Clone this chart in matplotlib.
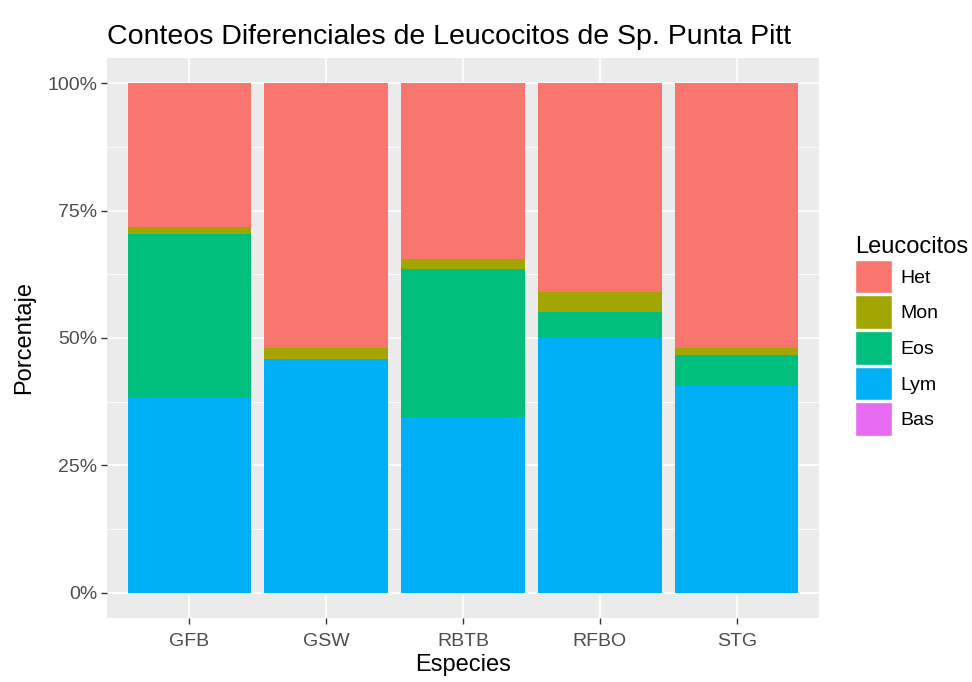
import matplotlib
matplotlib.use('Agg')
import matplotlib.pyplot as plt
from matplotlib.patches import Patch
import numpy as np

plt.rcParams['font.family'] = ['Liberation Sans', 'DejaVu Sans']

# data (percent of each species)
especies = ["GFB", "GSW", "RBTB", "RFBO", "STG"]
leucocitos = ["Het", "Mon", "Eos", "Lym", "Bas"]
het = [28.1, 52.0, 34.5, 40.9, 52.0]
mon = [1.5, 2.1, 2.0, 3.9, 1.3]
eos = [31.9, 0.0, 29.1, 5.2, 6.2]
lym = [38.5, 45.9, 34.4, 50.0, 40.5]
bas = [0.0, 0.0, 0.0, 0.0, 0.0]
colores = ["#F8766D", "#A3A500", "#00BF7D", "#00B0F6", "#E76BF3"]

series = {"Het": het, "Mon": mon, "Eos": eos, "Lym": lym, "Bas": bas}
totals = np.sum([series[k] for k in leucocitos], axis=0)

fig = plt.figure(figsize=(9.72, 6.82), dpi=100)
ax = fig.add_axes([107 / 972, 64 / 682, 712 / 972, 560 / 682])
ax.set_facecolor("#EBEBEB")

x = np.arange(1, len(especies) + 1)

# grid like ggplot
for v in [0.125, 0.375, 0.625, 0.875]:
    ax.axhline(v, color="white", lw=0.6, zorder=0)
for v in [0, 0.25, 0.5, 0.75, 1.0]:
    ax.axhline(v, color="white", lw=1.2, zorder=0)
for xi in x:
    ax.axvline(xi, color="white", lw=1.2, zorder=0)

# stack from bottom: Bas, Lym, Eos, Mon, Het
bottom = np.zeros(len(especies))
for name in leucocitos[::-1]:
    vals = np.array(series[name]) / totals
    ax.bar(x, vals, width=0.9, bottom=bottom, color=colores[leucocitos.index(name)],
           zorder=2, linewidth=0)
    bottom += vals

ax.set_xlim(0.4, 5.6)
ax.set_ylim(-0.05, 1.05)
ax.set_xticks(x)
ax.set_xticklabels(especies)
ax.set_yticks([0, 0.25, 0.5, 0.75, 1.0])
ax.set_yticklabels(["0%", "25%", "50%", "75%", "100%"])
ax.tick_params(axis="both", colors="#333333", labelcolor="#4D4D4D", labelsize=14,
               length=4, width=1, pad=3)
ax.tick_params(axis="x", pad=7)
for s in ax.spines.values():
    s.set_visible(False)

ax.set_xlabel("Especies", fontsize=17, color="black", labelpad=3)
ax.set_ylabel("Porcentaje", fontsize=17, color="black", labelpad=9)
fig.text(107 / 972, 1 - 37 / 682, "Conteos Diferenciales de Leucocitos de Sp. Punta Pitt",
         fontsize=20.5, ha="left", va="center")

handles = [Patch(facecolor=c, edgecolor="white", linewidth=1) for c in colores]
leg = fig.legend(handles, leucocitos, title="Leucocitos", loc="upper left",
                 bbox_to_anchor=(847 / 972, 1 - 228 / 682), frameon=False,
                 fontsize=14, title_fontsize=17, handlelength=1.92, handleheight=2.29,
                 labelspacing=0.1, handletextpad=0.45, borderaxespad=0)
leg._legend_box.align = "left"

fig.savefig("out.png", dpi=100)
